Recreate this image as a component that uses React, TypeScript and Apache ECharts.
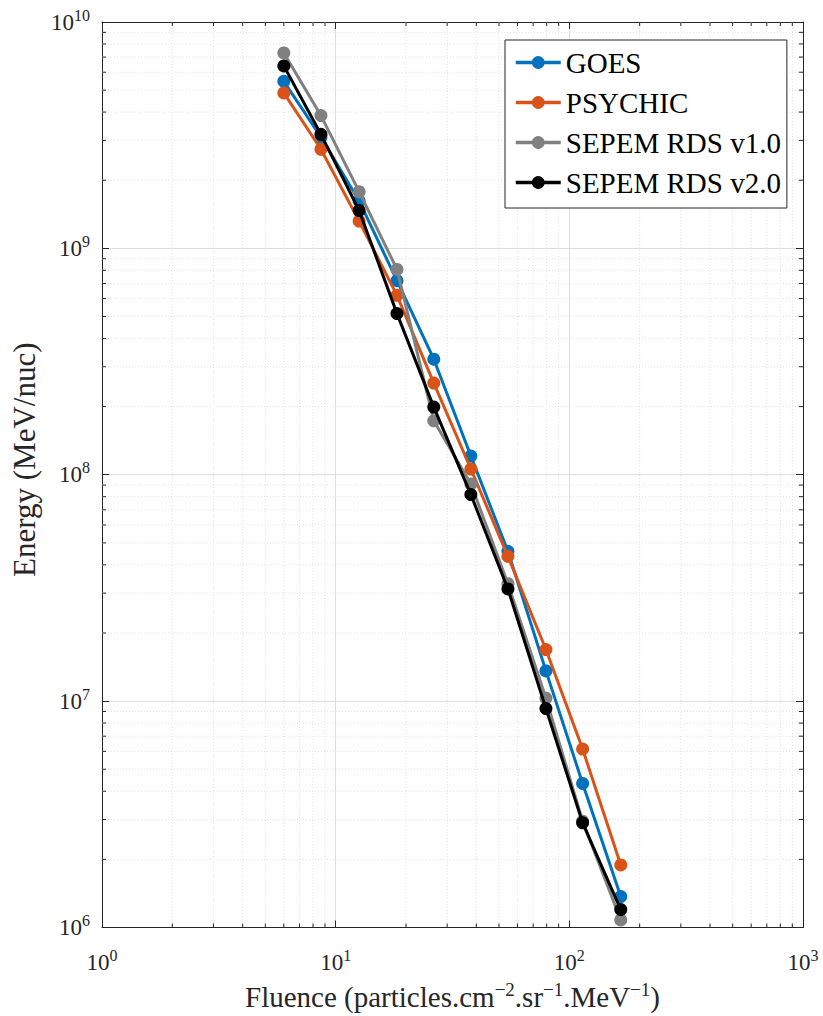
import React, { useEffect, useRef } from "react";
import * as echarts from "echarts";

const seriesNames = ["GOES", "PSYCHIC", "SEPEM RDS v1.0", "SEPEM RDS v2.0"];
const seriesColors = ["#0072BD", "#D95319", "#808080", "#000000"];

const fluence = [6.0, 8.65, 12.6, 18.3, 26.3, 37.9, 54.6, 79.4, 114, 166];
const goes = [5.47e9, 3.1e9, 1.62e9, 7.2e8, 3.24e8, 1.21e8, 4.59e7, 1.36e7, 4.33e6, 1.37e6];
const psychic = [4.86e9, 2.74e9, 1.32e9, 6.2e8, 2.54e8, 1.06e8, 4.36e7, 1.69e7, 6.14e6, 1.89e6];
const sepemV1 = [7.3e9, 3.86e9, 1.78e9, 8.07e8, 1.73e8, 9.1e7, 3.3e7, 1.03e7, 2.95e6, 1.08e6];
const sepemV2 = [6.4e9, 3.19e9, 1.47e9, 5.15e8, 1.99e8, 8.17e7, 3.13e7, 9.27e6, 2.9e6, 1.2e6];

const xMinorTicks = [2, 3, 4, 5, 6, 7, 8, 9, 20, 30, 40, 50, 60, 70, 80, 90, 200, 300, 400, 500, 600, 700, 800, 900];
const yMinorTicks = [
  2e6, 3e6, 4e6, 5e6, 6e6, 7e6, 8e6, 9e6,
  2e7, 3e7, 4e7, 5e7, 6e7, 7e7, 8e7, 9e7,
  2e8, 3e8, 4e8, 5e8, 6e8, 7e8, 8e8, 9e8,
  2e9, 3e9, 4e9, 5e9, 6e9, 7e9, 8e9, 9e9,
];

const FONT = "Liberation Serif";
const AXIS_COLOR = "#262626";

const powLabel = (v: number) => {
  const e = Math.round(Math.log10(v));
  return `{b|10}{s|${e}}`;
};
const powRich = {
  b: { fontFamily: FONT, fontSize: 23, color: AXIS_COLOR },
  s: { fontFamily: FONT, fontSize: 16, color: AXIS_COLOR, padding: [0, 0, 14, 0] },
};

export default function App() {
  const ref = useRef<HTMLDivElement>(null);
  useEffect(() => {
    if (!ref.current) return;
    const chart = echarts.init(ref.current, null, { renderer: "svg" });
    const datasets = [goes, psychic, sepemV1, sepemV2];
    const lineSeries = datasets.map((arr, i) => ({
      name: seriesNames[i],
      type: "line",
      data: arr.map((v, j) => [fluence[j], v]),
      symbol: "circle",
      symbolSize: 13,
      showSymbol: true,
      color: seriesColors[i],
      lineStyle: { width: 3, color: seriesColors[i] },
      itemStyle: { color: seriesColors[i] },
      z: 10 + i,
    }));

    const minorX = {
      type: "custom",
      silent: true,
      z: 1,
      data: xMinorTicks.map((v) => [v, 1e6]),
      renderItem: (params: any, api: any) => {
        const cs = params.coordSys;
        const x = api.coord([api.value(0), 1e6])[0];
        const top = cs.y;
        const bottom = cs.y + cs.height;
        return {
          type: "group",
          children: [
            { type: "line", shape: { x1: x, y1: top, x2: x, y2: bottom }, style: { stroke: "#e2e2e2", lineWidth: 1, lineDash: [1, 2] } },
            { type: "line", shape: { x1: x, y1: bottom, x2: x, y2: bottom - 4 }, style: { stroke: AXIS_COLOR, lineWidth: 1 } },
            { type: "line", shape: { x1: x, y1: top, x2: x, y2: top + 4 }, style: { stroke: AXIS_COLOR, lineWidth: 1 } },
          ],
        };
      },
    };
    const minorY = {
      type: "custom",
      silent: true,
      z: 1,
      data: yMinorTicks.map((v) => [1, v]),
      renderItem: (params: any, api: any) => {
        const cs = params.coordSys;
        const y = api.coord([1, api.value(1)])[1];
        const left = cs.x;
        const right = cs.x + cs.width;
        return {
          type: "group",
          children: [
            { type: "line", shape: { x1: left, y1: y, x2: right, y2: y }, style: { stroke: "#e2e2e2", lineWidth: 1, lineDash: [1, 2] } },
            { type: "line", shape: { x1: left, y1: y, x2: left + 4, y2: y }, style: { stroke: AXIS_COLOR, lineWidth: 1 } },
            { type: "line", shape: { x1: right, y1: y, x2: right - 4, y2: y }, style: { stroke: AXIS_COLOR, lineWidth: 1 } },
          ],
        };
      },
    };

    const option: any = {
      animation: false,
      backgroundColor: "#ffffff",
      textStyle: { fontFamily: FONT },
      grid: { left: 102, right: 20, top: 22, bottom: 84, containLabel: false },
      legend: {
        data: seriesNames,
        orient: "vertical",
        left: 505,
        top: 40,
        itemWidth: 45,
        itemHeight: 16,
        itemGap: 11,
        padding: [8, 6, 11, 9],
        borderColor: AXIS_COLOR,
        borderWidth: 1,
        backgroundColor: "#ffffff",
        lineStyle: { width: 3.5 },
        textStyle: { fontFamily: FONT, fontSize: 29, color: "#000" },
      },
      xAxis: [
        {
          type: "log",
          logBase: 10,
          min: 1,
          max: 1000,
          position: "bottom",
          name: "{a|Fluence (particles.cm}{s|−2}{a|.sr}{s|−1}{a|.MeV}{s|−1}{a|)}",
          nameLocation: "middle",
          nameGap: 52,
          nameTextStyle: {
            fontFamily: FONT,
            rich: {
              a: { fontFamily: FONT, fontSize: 29, color: AXIS_COLOR },
              s: { fontFamily: FONT, fontSize: 19, color: AXIS_COLOR, padding: [0, 0, 15, 0] },
            },
          },
          axisLine: { show: true, onZero: false, lineStyle: { color: AXIS_COLOR, width: 1 } },
          axisTick: { show: true, inside: true, length: 7, lineStyle: { color: AXIS_COLOR } },
          axisLabel: { formatter: powLabel, rich: powRich, margin: 20, fontFamily: FONT },
          splitLine: { show: true, lineStyle: { color: "#dedede", width: 1 } },
        },
        {
          type: "log",
          logBase: 10,
          min: 1,
          max: 1000,
          position: "top",
          axisLine: { show: true, onZero: false, lineStyle: { color: AXIS_COLOR, width: 1 } },
          axisTick: { show: true, inside: true, length: 7, lineStyle: { color: AXIS_COLOR } },
          axisLabel: { show: false },
          splitLine: { show: false },
        },
      ],
      yAxis: [
        {
          type: "log",
          logBase: 10,
          min: 1e6,
          max: 1e10,
          position: "left",
          name: "Energy (MeV/nuc)",
          nameLocation: "middle",
          nameGap: 62,
          nameTextStyle: { fontFamily: FONT, fontSize: 31, color: AXIS_COLOR, padding: [0, 0, 0, 30] },
          axisLine: { show: true, onZero: false, lineStyle: { color: AXIS_COLOR, width: 1 } },
          axisTick: { show: true, inside: true, length: 7, lineStyle: { color: AXIS_COLOR } },
          axisLabel: { formatter: powLabel, rich: powRich, margin: 12, fontFamily: FONT },
          splitLine: { show: true, lineStyle: { color: "#dedede", width: 1 } },
        },
        {
          type: "log",
          logBase: 10,
          min: 1e6,
          max: 1e10,
          position: "right",
          axisLine: { show: true, onZero: false, lineStyle: { color: AXIS_COLOR, width: 1 } },
          axisTick: { show: true, inside: true, length: 7, lineStyle: { color: AXIS_COLOR } },
          axisLabel: { show: false },
          splitLine: { show: false },
        },
      ],
      series: [minorX, minorY, ...lineSeries],
    };
    chart.setOption(option);
    return () => chart.dispose();
  }, []);
  return <div ref={ref} style={{ width: 823, height: 1016, position: "absolute", left: 0, top: 0 }} />;
}
